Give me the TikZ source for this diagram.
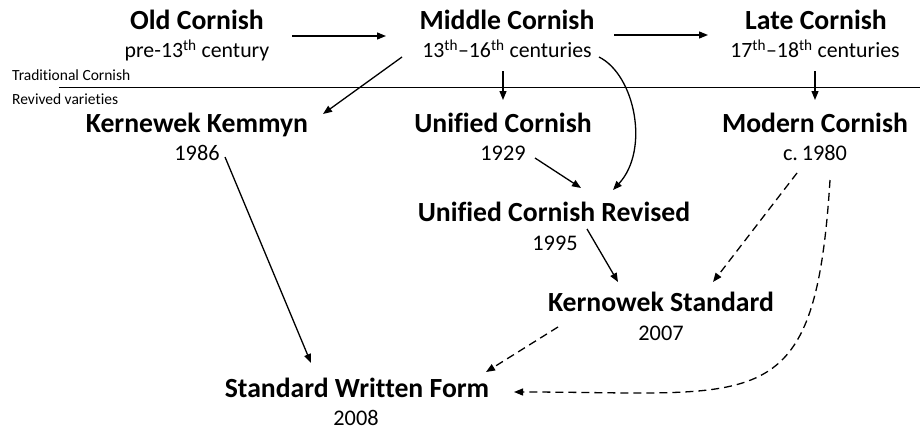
\documentclass[tikz,border=0pt]{standalone}
\usepackage{fontspec}
\setmainfont{Carlito}[Ligatures=NoCommon]
\usetikzlibrary{arrows.meta,calc}
\begin{document}
\begin{tikzpicture}[x=1pt,y=-1pt,
  title/.style={inner sep=0pt,anchor=base,font=\fontsize{27.7}{30}\selectfont\bfseries},
  sub/.style={inner sep=0pt,anchor=base,font=\fontsize{21.8}{24}\selectfont},
  yr/.style={inner sep=0pt,anchor=base,font=\fontsize{22.3}{24}\selectfont},
  small/.style={inner sep=0pt,anchor=base west,font=\fontsize{15.5}{18}\selectfont},
  arr/.style={line width=1.3pt,-{Triangle[length=9pt,width=7pt]}},
  darr/.style={arr,dash pattern=on 8pt off 5pt}]
\useasboundingbox (0,0) rectangle (920,428);
\fill[white] (0,0) rectangle (920,428);
% separator
\node[small] (trad) at (12,80) {Traditional Cornish};
\node[small] (rev) at (12,104) {Revived varieties};
\coordinate (sepL) at (59,87);
\coordinate (sepR) at (920,87);
\draw[line width=0.9pt] (sepL) -- (sepR);
% nodes
\node[title] (oldT) at (197,30) {Old Cornish};
\node[sub] (oldS) at (197,58) {pre-13\textsuperscript{th} century};
\node[title] (midT) at (507,30) {Middle Cornish};
\node[sub] (midS) at (507,58) {13\textsuperscript{th}–16\textsuperscript{th} centuries};
\node[title] (lateT) at (816,30) {Late Cornish};
\node[sub] (lateS) at (815,58) {17\textsuperscript{th}–18\textsuperscript{th} centuries};
\node[title] (kkT) at (197,132) {Kernewek Kemmyn};
\node[yr] (kkS) at (197,160) {1986};
\node[title] (ucT) at (503,132) {Unified Cornish};
\node[yr] (ucS) at (503,160) {1929};
\node[title] (modT) at (815,132) {Modern Cornish};
\node[yr] (modS) at (815,160) {c.\,1980};
\node[title] (ucrT) at (554,221) {Unified Cornish Revised};
\node[yr] (ucrS) at (555,250) {1995};
\node[title] (ksT) at (661,311) {Kernowek Standard};
\node[yr] (ksS) at (661,340) {2007};
\node[title] (swfT) at (357,397) {Standard Written Form};
\node[yr] (swfS) at (356,425) {2008};
% connectors
\draw[arr] ($(oldT.base)+(95,6)$) -- ($(midT.base)+(-121,6)$);
\draw[arr] ($(midT.base)+(107,5)$) -- ($(lateT.base)+(-108,5)$);
\draw[arr] ($(midS.base)+(-105,-1)$) -- ($(kkT.base)+(126,-18)$);
\draw[arr] ($(midS.base)+(-4,13)$) -- ($(ucT.base)+(0,-32)$);
\draw[arr] ($(lateS.base)+(0,13)$) -- ($(modT.base)+(0,-32)$);
\draw[arr] ($(midS.base)+(92,-1)$) .. controls +(36,18) and +(37,-40) .. ($(ucrT.base)+(59,-31)$);
\draw[arr] ($(ucS.base)+(32,-2)$) -- ($(ucrT.base)+(27,-33)$);
\draw[arr] ($(kkS.base)+(28,-3)$) -- ($(swfT.base)+(-46,-34)$);
\draw[arr] ($(ucrT.base)+(33,8)$) -- ($(ksT.base)+(-43,-29)$);
\draw[darr] ($(modS.base)+(-18,13)$) -- ($(ksT.base)+(52,-29)$);
\draw[darr] ($(ksT.base)+(-103,16)$) -- ($(swfT.base)+(129,-25)$);
\draw[darr] ($(modS.base)+(15,20)$) .. controls +(-15,240) and +(246,0) .. ($(swfT.base)+(157,-5)$);
\end{tikzpicture}
\end{document}
